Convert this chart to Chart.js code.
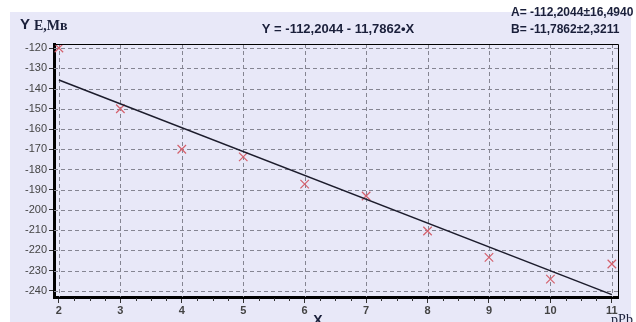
<!DOCTYPE html>
<html>
<head>
<meta charset="utf-8">
<script src="https://cdn.jsdelivr.net/npm/chart.js@4"></script>
<style>
  html, body { margin: 0; padding: 0; background: #fff; }
  #wrap { width: 636px; height: 322px; }
</style>
</head>
<body>
<div id="wrap"><canvas id="myChart" width="636" height="322"></canvas></div>
<script>
const xValues = [2, 3, 4, 5, 6, 7, 8, 9, 10, 11];
const yValues = [-120, -150, -170, -173.8, -187.2, -193.1, -210.4, -223.4, -234.2, -226.7];
const fitX = [2, 11];
const fitY = [-135.78, -241.85];
const xTicks = [2, 3, 4, 5, 6, 7, 8, 9, 10, 11];
const yTicks = [-120, -130, -140, -150, -160, -170, -180, -190, -200, -210, -220, -230, -240];

const ctx = document.getElementById('myChart');

// background, dashed grid, frame, minor ticks and the free texts
const decor = {
  id: 'decor',
  beforeDraw(chart) {
    const c = chart.ctx;
    c.save();
    c.fillStyle = '#ffffff';
    c.fillRect(0, 0, chart.width, chart.height);
    c.fillStyle = '#e8e8f8';
    c.fillRect(10, 12, 621, 310);
    c.restore();
  },
  beforeDatasetsDraw(chart) {
    const c = chart.ctx;
    const a = chart.chartArea;
    const xs = chart.scales.x, ys = chart.scales.y;
    c.save();
    c.strokeStyle = '#858592';
    c.lineWidth = 1;
    c.setLineDash([4, 3]);
    c.beginPath();
    xTicks.forEach(v => {
      const px = Math.round(xs.getPixelForValue(v)) + 0.5;
      c.moveTo(px, a.top);
      c.lineTo(px, a.bottom);
    });
    yTicks.forEach(v => {
      const py = Math.round(ys.getPixelForValue(v)) + 0.5;
      c.moveTo(a.left, py);
      c.lineTo(a.right, py);
    });
    c.stroke();
    c.restore();
  },
  afterDraw(chart) {
    const c = chart.ctx;
    const a = chart.chartArea;
    const xs = chart.scales.x;
    c.save();
    c.strokeStyle = '#000';
    c.lineWidth = 1;
    c.beginPath();
    c.moveTo(a.left, a.top + 0.5);
    c.lineTo(a.right + 0.5, a.top + 0.5);
    c.lineTo(a.right + 0.5, a.bottom);
    c.stroke();
    // minor ticks on x axis
    c.strokeStyle = '#333';
    c.beginPath();
    for (let v = 2; v < 11; v += 0.25) {
      if (Math.abs(v - Math.round(v)) < 0.01) continue;
      const px = Math.round(xs.getPixelForValue(v)) + 0.5;
      c.moveTo(px, a.bottom + 1);
      c.lineTo(px, a.bottom + 4);
    }
    c.stroke();

    c.fillStyle = '#1a1f3a';
    c.textBaseline = 'middle';
    c.font = 'bold 15px "Liberation Sans"';
    c.fillText('Y', 20, 25);
    c.font = 'bold 14px "Liberation Serif"';
    c.fillText('E,Мв', 34, 26);

    c.font = 'bold 13px "Liberation Sans"';
    c.textAlign = 'center';
    c.fillText('Y = -112,2044 - 11,7862•X', 338, 29);
    c.font = 'bold 12px "Liberation Sans"';
    c.textAlign = 'left';
    c.fillText('A= -112,2044±16,4940', 511, 13);
    c.fillText('B= -11,7862±2,3211', 511, 30);

    c.font = 'bold 14px "Liberation Sans"';
    c.textAlign = 'center';
    c.fillText('X', 318, 321);
    c.font = '14px "Liberation Serif"';
    c.fillText('pPb', 622, 320);
    c.restore();
  }
};

new Chart(ctx, {
  type: 'scatter',
  data: {
    datasets: [{
      label: 'fit',
      type: 'line',
      data: fitX.map((x, i) => ({ x: x, y: fitY[i] })),
      borderColor: '#1c1c2c',
      borderWidth: 1.5,
      pointRadius: 0,
      fill: false
    }, {
      label: 'points',
      data: xValues.map((x, i) => ({ x: x, y: yValues[i] })),
      pointStyle: 'crossRot',
      pointRadius: 6,
      borderColor: '#d4606c',
      borderWidth: 1.2,
      backgroundColor: '#d4606c'
    }]
  },
  plugins: [decor],
  options: {
    responsive: false,
    animation: false,
    layout: {
      padding: { left: 0, top: 44, right: 18, bottom: 0 }
    },
    scales: {
      x: {
        type: 'linear',
        min: 1.92,
        max: 11.1,
        afterBuildTicks: (scale) => { scale.ticks = xTicks.map(v => ({ value: v })); },
        afterFit: (scale) => { scale.height = 25; },
        grid: {
          drawOnChartArea: false,
          tickLength: 6,
          tickColor: '#333'
        },
        border: { display: true, color: '#000', width: 3 },
        ticks: {
          color: '#444',
          padding: 1,
          maxRotation: 0,
          font: { family: 'Liberation Sans', size: 11, weight: 'bold' }
        }
      },
      y: {
        min: -243,
        max: -118,
        afterBuildTicks: (scale) => { scale.ticks = yTicks.map(v => ({ value: v })); },
        afterFit: (scale) => { scale.width = 54; },
        grid: {
          drawOnChartArea: false,
          tickLength: 5,
          tickColor: '#333'
        },
        border: { display: true, color: '#000', width: 3 },
        ticks: {
          color: '#444',
          padding: 2,
          font: { family: 'Liberation Sans', size: 11 }
        }
      }
    },
    plugins: {
      legend: { display: false },
      tooltip: { enabled: false }
    }
  }
});
</script>
</body>
</html>
